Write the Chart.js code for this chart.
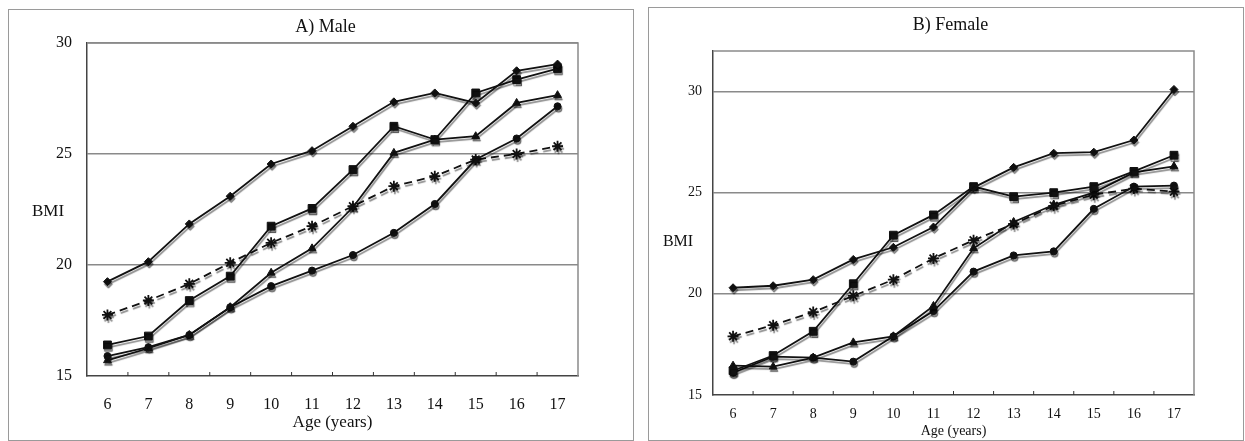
<!DOCTYPE html>
<html>
<head>
<meta charset="utf-8">
<script src="https://cdn.jsdelivr.net/npm/chart.js@4"></script>
<style>
    body { margin: 0; background: #fff; width: 1245px; height: 441px; position: relative; overflow: hidden; }
    .frame { position: absolute; border: 1.5px solid #9a9a9a; box-sizing: border-box; }
    canvas { position: absolute; top: 0; }
</style>
</head>
<body>
<div class="frame" style="left:8px;top:9px;width:626px;height:432px"></div>
<div class="frame" style="left:648px;top:7px;width:596px;height:434px"></div>
<canvas id="male" width="640" height="441" style="left:0"></canvas>
<canvas id="female" width="605" height="441" style="left:640px"></canvas>
<script>
const ages = ["6", "7", "8", "9", "10", "11", "12", "13", "14", "15", "16", "17"];

// A) Male
const maleDiamond = [19.25, 20.15, 21.85, 23.1, 24.55, 25.15, 26.25, 27.35, 27.75, 27.3, 28.75, 29.05];
const maleSquare = [16.4, 16.8, 18.4, 19.5, 21.75, 22.55, 24.3, 26.25, 25.65, 27.75, 28.35, 28.85];
const maleTriangle = [15.7, 16.25, 16.85, 18.1, 19.65, 20.75, 22.6, 25.05, 25.65, 25.8, 27.3, 27.65];
const maleCircle = [15.9, 16.3, 16.85, 18.1, 19.05, 19.75, 20.45, 21.45, 22.75, 24.75, 25.7, 27.15];
const maleStar = [17.75, 18.4, 19.15, 20.1, 21.0, 21.75, 22.65, 23.55, 24.0, 24.75, 25.0, 25.35];

// B) Female
const femaleDiamond = [20.3, 20.4, 20.7, 21.7, 22.3, 23.3, 25.25, 26.25, 26.95, 27.0, 27.6, 30.1];
const femaleSquare = [16.2, 16.95, 18.15, 20.5, 22.9, 23.9, 25.3, 24.8, 25.0, 25.3, 26.05, 26.85];
const femaleTriangle = [16.45, 16.4, 16.85, 17.6, 17.9, 19.4, 22.25, 23.55, 24.4, 25.0, 26.0, 26.3];
const femaleCircle = [16.1, 16.9, 16.85, 16.65, 17.9, 19.15, 21.1, 21.9, 22.1, 24.2, 25.3, 25.35];
const femaleStar = [17.9, 18.45, 19.1, 19.9, 20.7, 21.75, 22.65, 23.45, 24.35, 24.9, 25.2, 25.05];

const yTicksMale = [15, 20, 25, 30];
const yTicksFemale = [15, 20, 25, 30];

const serif = "'Liberation Serif', 'Times New Roman', serif";

function makeDatasets(diamond, square, triangle, circle, star) {
    const line = (data, pointStyle, radius) => ({
        data: data,
        pointStyle: pointStyle,
        pointRadius: radius,
        borderColor: "#111",
        backgroundColor: "#111",
        pointBorderColor: "#111",
        pointBackgroundColor: "#111",
        borderWidth: 1.8,
        pointBorderWidth: 1,
        tension: 0,
    });
    return [
        line(diamond, "rectRot", 4),
        line(square, "rect", 5.5),
        line(triangle, "triangle", 4.5),
        line(circle, "circle", 3.5),
        { ...line(star, "star", 5.5), borderDash: [8, 5], pointBorderWidth: 1.8 },
    ];
}

// grey offset copy under each line, like the printed figure
const shadowPlugin = {
    id: "lineShadow",
    beforeDatasetsDraw(chart) {
        const ctx = chart.ctx;
        ctx.save();
        ctx.shadowColor = "rgba(0,0,0,0.45)";
        ctx.shadowOffsetX = 1;
        ctx.shadowOffsetY = 2.5;
        ctx.shadowBlur = 1;
    },
    afterDatasetsDraw(chart) {
        chart.ctx.restore();
    },
};

const panelPlugin = {
    id: "panel",
    beforeDatasetsDraw(chart) {
        const { ctx, chartArea: a, scales } = chart;
        ctx.save();
        ctx.strokeStyle = "#8a8a8a";
        ctx.lineWidth = 1.5;
        ctx.beginPath();
        ctx.moveTo(a.left, a.top);
        ctx.lineTo(a.right, a.top);
        ctx.lineTo(a.right, a.bottom);
        ctx.stroke();
        // small inward ticks between categories
        ctx.strokeStyle = "#333";
        ctx.lineWidth = 1;
        for (let i = 1; i < ages.length; i++) {
            const px = (scales.x.getPixelForValue(i - 1) + scales.x.getPixelForValue(i)) / 2;
            ctx.beginPath();
            ctx.moveTo(px, a.bottom);
            ctx.lineTo(px, a.bottom - 4);
            ctx.stroke();
        }
        ctx.restore();
    },
    afterDraw(chart, args, opts) {
        const { ctx, chartArea: a, scales } = chart;
        const mid = (a.left + a.right) / 2;
        ctx.save();
        ctx.fillStyle = "#111";
        ctx.textAlign = "center";
        ctx.textBaseline = "middle";
        ctx.font = `${opts.titleSize}px ${serif}`;
        ctx.fillText(opts.title, mid + opts.titleDx, opts.titleY);
        ctx.font = `${opts.xTitleSize}px ${serif}`;
        ctx.fillText("Age (years)", mid, opts.xTitleY);
        ctx.font = `${opts.bmiSize}px ${serif}`;
        ctx.fillText("BMI", opts.bmiX, scales.y.getPixelForValue(opts.bmiValue));
        ctx.restore();
    },
};

function makeChart(canvasId, datasets, yMax, yTicks, p) {
    const config = {
        type: "line",
        data: { labels: ages, datasets: datasets },
        options: {
            responsive: false,
            animation: false,
            layout: { padding: { left: 0, top: p.top, right: p.right, bottom: 0 } },
            plugins: {
                legend: { display: false },
                tooltip: { enabled: false },
                panel: p.text,
            },
            scales: {
                x: {
                    offset: true,
                    grid: { display: false, drawTicks: false },
                    border: { display: true, color: "#444", width: 1.5 },
                    ticks: { padding: p.xPad, color: "#111", font: { family: serif, size: p.tickSize } },
                    afterFit: (s) => { s.height = p.xHeight; },
                },
                y: {
                    min: 15,
                    max: yMax,
                    afterBuildTicks: (s) => { s.ticks = yTicks.map((v) => ({ value: v })); },
                    grid: {
                        color: (c) => (c.tick.value === 15 ? "rgba(0,0,0,0)" : "#8a8a8a"),
                        lineWidth: 1.5,
                        drawTicks: false,
                    },
                    border: { display: true, color: "#444", width: 1.5 },
                    ticks: { padding: p.yPad, color: "#111", font: { family: serif, size: p.tickSize } },
                    afterFit: (s) => { s.width = p.yWidth; },
                },
            },
        },
        plugins: [panelPlugin, shadowPlugin],
    };
    return new Chart(document.getElementById(canvasId), config);
}

makeChart("male", makeDatasets(maleDiamond, maleSquare, maleTriangle, maleCircle, maleStar), 30, yTicksMale, {
    top: 43, right: 62, yWidth: 87, xHeight: 65, yPad: 15, xPad: 19, tickSize: 16,
    text: { title: "A) Male", titleSize: 18, titleDx: -7, titleY: 27, xTitleSize: 17, xTitleY: 423, bmiSize: 17, bmiX: 48, bmiValue: 22.4 },
});

makeChart("female", makeDatasets(femaleDiamond, femaleSquare, femaleTriangle, femaleCircle, femaleStar), 32, yTicksFemale, {
    top: 51, right: 51, yWidth: 73, xHeight: 46, yPad: 11, xPad: 11, tickSize: 14,
    text: { title: "B) Female", titleSize: 18, titleDx: -3, titleY: 25, xTitleSize: 14, xTitleY: 431, bmiSize: 16, bmiX: 38, bmiValue: 22.55 },
});
</script>
</body>
</html>
